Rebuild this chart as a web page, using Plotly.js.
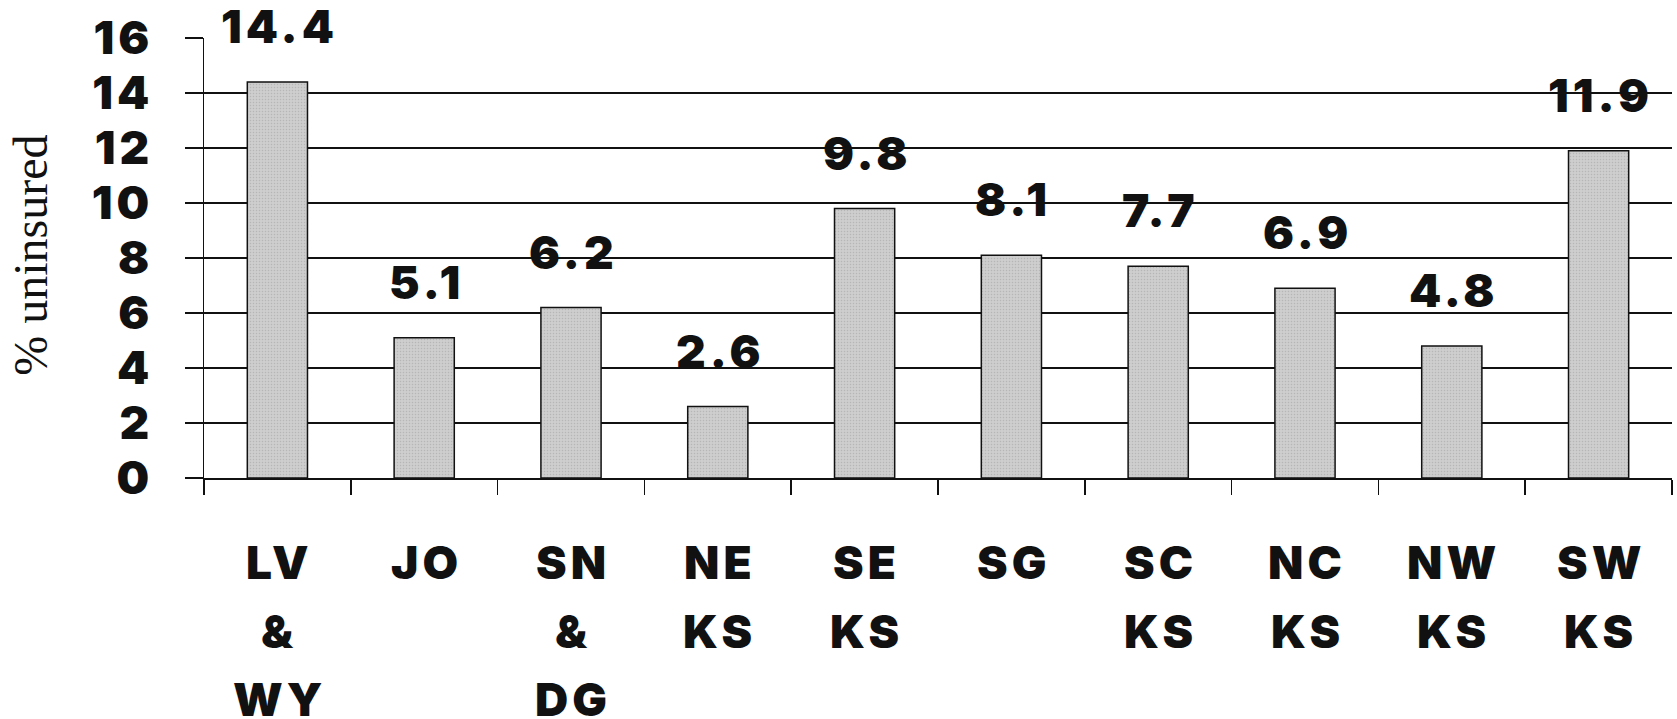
<!DOCTYPE html>
<html>
<head>
<meta charset="utf-8">
<script src="https://cdn.plot.ly/plotly-3.0.1.min.js"></script>
<style>
  html, body { margin: 0; padding: 0; background: #fff; }
  #chart { width: 1677px; height: 719px; }
  /* wide, heavy lettering for numbers and region codes */
  #chart text.annotation-text.heavy-label,
  #chart .ytick text { letter-spacing: 4px; }
</style>
</head>
<body>
<div id="chart"></div>
<script>
// Regions (label lines) and share of residents without insurance
const regionLines = [
  ["LV", "&", "WY"],
  ["JO"],
  ["SN", "&", "DG"],
  ["NE", "KS"],
  ["SE", "KS"],
  ["SG"],
  ["SC", "KS"],
  ["NC", "KS"],
  ["NW", "KS"],
  ["SW", "KS"]
];
const regions = regionLines.map(l => l.join(" "));
const uninsured = [14.4, 5.1, 6.2, 2.6, 9.8, 8.1, 7.7, 6.9, 4.8, 11.9];
const yTicks = [0, 2, 4, 6, 8, 10, 12, 14, 16];

const heavy = { family: "Arial Black, Inter, Lato, 'DejaVu Sans', sans-serif", size: 46, color: "#111", weight: 900 };

const annotations = [];

// value labels above each bar
regions.forEach((r, i) => {
  annotations.push({
    x: r, y: uninsured[i], xref: "x", yref: "y",
    text: uninsured[i].toFixed(1),
    showarrow: false, xanchor: "center", yanchor: "bottom",
    xshift: 2, yshift: 26, font: heavy
  });
});

// multi-line category labels under the axis
regionLines.forEach((lines, i) => {
  lines.forEach((line, k) => {
    annotations.push({
      x: regions[i], y: 0, xref: "x", yref: "y",
      text: line, showarrow: false, xanchor: "center", yanchor: "top",
      xshift: 2, yshift: -54 - k * 68.5, font: heavy
    });
  });
});
const heavyCount = annotations.length;

// axis title
annotations.push({
  x: 0, y: 0.505, xref: "paper", yref: "paper",
  text: "% uninsured", textangle: -90, showarrow: false,
  xanchor: "center", yanchor: "middle", xshift: -173,
  font: { family: "'Liberation Serif', 'Times New Roman', serif", size: 48, color: "#111" }
});

const trace = {
  type: "bar",
  x: regions,
  y: uninsured,
  marker: {
    color: "#c9c9c9",
    line: { color: "#111", width: 1.5 },
    pattern: { shape: ".", fgcolor: "#b6b6b6", bgcolor: "#cecece", size: 3, solidity: 0.2 }
  },
  hoverinfo: "none"
};

const layout = {
  width: 1677, height: 719,
  margin: { l: 204, r: 5, t: 38, b: 241 },
  paper_bgcolor: "#fff", plot_bgcolor: "#fff",
  bargap: 0.59,
  showlegend: false,
  xaxis: {
    type: "category",
    showticklabels: false,
    showline: true, linecolor: "#111", linewidth: 1.5,
    ticks: "outside", tickson: "boundaries", ticklen: 15, tickwidth: 1.5, tickcolor: "#111",
    showgrid: false, zeroline: false
  },
  yaxis: {
    range: [0, 16],
    tickvals: yTicks,
    ticktext: yTicks.map(String),
    tickfont: heavy,
    ticks: "outside", ticklen: 18, tickwidth: 1.5, tickcolor: "#111",
    ticklabelstandoff: 22,
    showline: true, linecolor: "#111", linewidth: 1.5,
    showgrid: true, gridcolor: "#111", gridwidth: 1.5,
    zeroline: false
  },
  annotations: annotations
};

// tag the heavy annotation texts so the wide letter spacing applies to them
function tagHeavy() {
  document.querySelectorAll("#chart g.annotation").forEach((g, idx) => {
    const t = g.querySelector("text.annotation-text");
    if (t && idx < heavyCount) t.classList.add("heavy-label");
  });
}

Plotly.newPlot("chart", [trace], layout, { staticPlot: true, displayModeBar: false }).then(tagHeavy);
</script>
</body>
</html>
